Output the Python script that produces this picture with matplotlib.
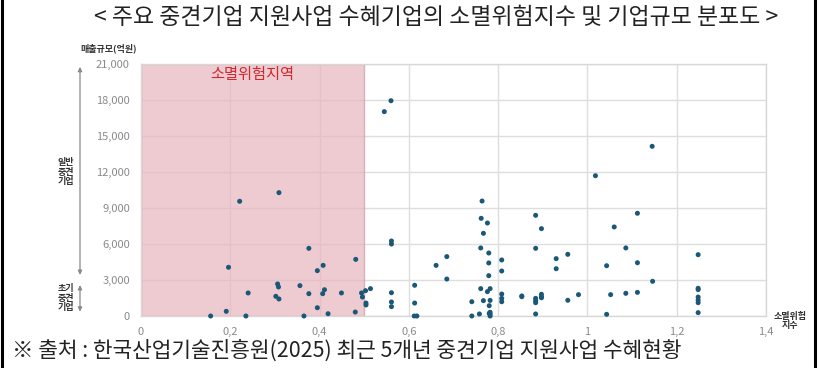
import matplotlib
matplotlib.use("Agg")
import matplotlib.pyplot as plt
from matplotlib.patches import Rectangle, FancyArrowPatch
from matplotlib.lines import Line2D

plt.rcParams['font.family'] = ['Noto Sans CJK KR', 'DejaVu Sans']

title = "< 주요 중견기업 지원사업 수혜기업의 소멸위험지수 및 기업규모 분포도 >"
source = "※ 출처 : 한국산업기술진흥원(2025) 최근 5개년 중견기업 지원사업 수혜현황"
y_label = "매출규모(억원)"
x_label = "소멸위험\n지수"
zone_label = "소멸위험지역"
group_hi = "일반\n중견\n기업"
group_lo = "초기\n중견\n기업"

x_ticks = [0, 0.2, 0.4, 0.6, 0.8, 1.0, 1.2, 1.4]
x_tick_labels = ["0", "0,2", "0,4", "0,6", "0,8", "1", "1,2", "1,4"]
y_ticks = [0, 3000, 6000, 9000, 12000, 15000, 18000, 21000]
y_tick_labels = ["0", "3,000", "6,000", "9,000", "12,000", "15,000", "18,000", "21,000"]

risk_threshold = 0.5
group_split = 3000

# 소멸위험지수 (x) and 매출규모 (y, 억원)
risk_index = [
    0.309, 0.221, 0.376, 0.481, 0.196, 0.408, 0.395, 0.306, 0.308, 0.356,
    0.411, 0.240, 0.376, 0.407, 0.449, 0.302, 0.309, 0.395, 0.191, 0.419,
    0.480, 0.156, 0.235, 0.365, 0.494, 0.503, 0.514, 0.496, 0.504, 0.504,
    0.545, 0.560, 0.561, 0.561, 0.561, 0.561, 0.561,
    0.613, 0.613, 0.612, 0.618, 0.661, 0.685, 0.685,
    0.741, 0.741, 0.758, 0.761, 0.761, 0.762, 0.764, 0.767, 0.767,
    0.776, 0.776, 0.779, 0.779, 0.779, 0.780, 0.782, 0.782, 0.782,
    0.782, 0.782, 0.780,
    0.808, 0.808, 0.808, 0.808, 0.808, 0.853, 0.853,
    0.884, 0.884, 0.884, 0.884, 0.884, 0.884, 0.897, 0.897, 0.897, 0.897,
    0.930, 0.930, 0.956, 0.956, 0.980,
    1.018, 1.043, 1.043, 1.052, 1.060, 1.086, 1.086, 1.112, 1.112, 1.112,
    1.145, 1.146,
    1.248, 1.248, 1.248, 1.248, 1.248, 1.248, 1.248,
]
sales = [
    10280, 9560, 5640, 4720, 4060, 4220, 3780, 2670, 2420, 2530,
    2190, 1920, 1860, 1860, 1920, 1640, 1420, 690, 390, 190,
    330, 0, 0, 0, 1920, 2110, 2280, 1580, 1080, 920,
    17030, 17940, 6250, 6000, 1940, 1170, 780,
    2560, 1080, 0, 0, 4220, 4950, 3080,
    1190, 0, 170, 5670, 2280, 8140, 9580, 6890, 1280,
    7750, 2030, 5250, 4420, 3360, 860, 2280, 1300,
    310, 140, 0, 220,
    4670, 3750, 1830, 1470, 1190, 1610, 1670,
    8390, 5640, 1470, 1280, 1110, 170, 7280, 1810, 1610, 1520,
    4780, 3940, 5140, 1310, 1780,
    11690, 4190, 140, 1780, 7420, 5670, 1890, 8560, 4440, 1970,
    14140, 2890,
    5110, 2310, 2200, 1580, 1330, 1110, 280,
]

fig = plt.figure(figsize=(8.19, 3.68), dpi=100)
fig.patch.set_facecolor("white")
ax = fig.add_axes([141/819, 52/368, 625/819, 252/368])

ax.set_xlim(0, 1.4)
ax.set_ylim(0, 21000)
ax.set_xticks(x_ticks)
ax.set_xticklabels(x_tick_labels)
ax.set_yticks(y_ticks)
ax.set_yticklabels(y_tick_labels)
ax.tick_params(length=0, labelsize=8, labelcolor="#8a8a8a", pad=8)
ax.grid(True, color="#dedede", linewidth=1.0, zorder=0)
ax.set_axisbelow(True)
for s in ax.spines.values():
    s.set_color("#d8d8d8")
    s.set_linewidth(1.0)

ax.add_patch(Rectangle((0, 0), risk_threshold, 21000, facecolor="#e7b7c0",
                       edgecolor="#c9a0a6", linewidth=1.0, alpha=0.72, zorder=1))
ax.text(risk_threshold / 2, 20150, zone_label, color="#d0282e", fontsize=11,
        ha="center", va="center", zorder=3)

ax.scatter(risk_index, sales, s=13, color="#1b5878", edgecolors="none",
           zorder=4, clip_on=False)

# Title and source
fig.text(436/819, 1 - 17/368, title, ha="center", va="center", fontsize=16.5,
         color="#222222")
fig.text(12/819, 1 - 351/368, source, ha="left", va="center", fontsize=15.4,
         color="#222222")

# axis labels
fig.text(109/819, 1 - 48/368, y_label, ha="center", va="center", fontsize=6.5,
         fontweight="bold", color="#333333")
fig.text(790/819, 1 - 321/368, x_label, ha="center", va="center", fontsize=6.5,
         fontweight="bold", color="#333333", linespacing=1.0)

# group brackets on the left
def yfig(v):
    return (52 + v / 21000 * 252) / 368

xa = 80/819
for y0, y1 in [(yfig(group_split) + 0.006, yfig(21000)), (yfig(0) + 0.004, yfig(group_split) - 0.006)]:
    arr = FancyArrowPatch((xa, y0), (xa, y1), transform=fig.transFigure,
                          arrowstyle="<|-|>,head_length=2.5,head_width=1.2",
                          color="#8a8a8a", linewidth=0.9)
    fig.patches.append(arr)
fig.text(66/819, yfig(12000), group_hi, ha="center", va="center", fontsize=6.5,
         color="#333333", fontweight="bold", linespacing=1.05)
fig.text(66/819, yfig(1500), group_lo, ha="center", va="center", fontsize=6.5,
         color="#333333", fontweight="bold", linespacing=1.05)

# black frame edges
fig.add_artist(Line2D([1.5/819, 1.5/819], [0, 1], transform=fig.transFigure,
                      color="black", linewidth=2.2))
fig.add_artist(Line2D([815/819, 815/819], [0, 1], transform=fig.transFigure,
                      color="black", linewidth=2.2))

fig.savefig("out.png", dpi=100, facecolor="white")
